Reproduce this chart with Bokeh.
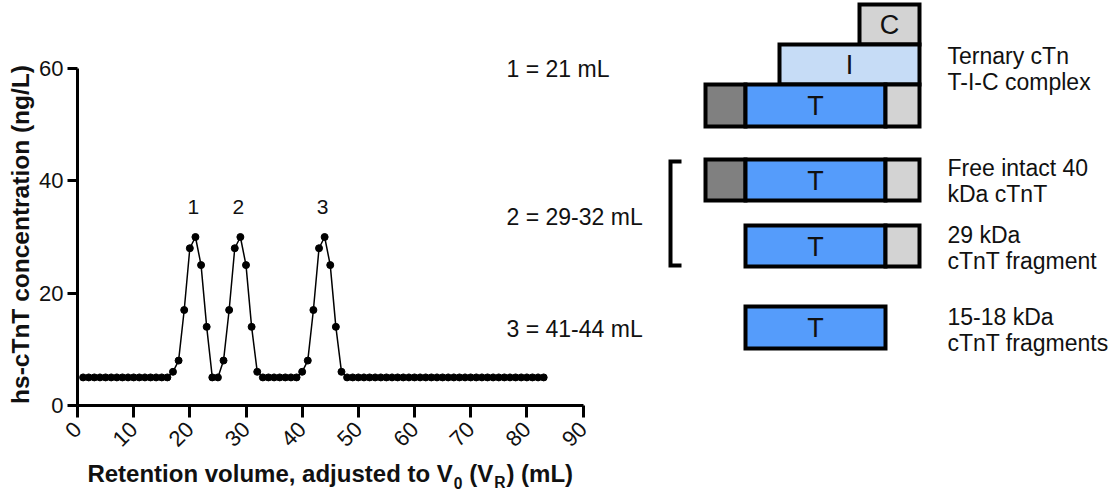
import math
from bokeh.plotting import figure
from bokeh.models import Range1d, FixedTicker, ColumnDataSource
from bokeh.embed import file_html
from bokeh.resources import INLINE
from bokeh.core.properties import value

# ---------------- data ----------------
volume_ml = list(range(1, 84))
conc_ng_l = [5, 5, 5, 5, 5, 5, 5, 5, 5, 5, 5, 5, 5, 5, 5, 5,
             6, 8, 17, 28, 30, 25, 14, 5, 5, 8, 17, 28, 30, 25, 14, 6,
             5, 5, 5, 5, 5, 5, 5,
             6, 8, 17, 28, 30, 25, 14, 6,
             5, 5, 5, 5, 5, 5, 5, 5, 5, 5, 5, 5, 5, 5, 5, 5, 5, 5,
             5, 5, 5, 5, 5, 5, 5, 5, 5, 5, 5, 5, 5, 5, 5, 5, 5, 5]
peak_names = ["1", "2", "3"]
peak_volumes = [21, 29, 44]
peak_heights = [30, 30, 30]
x_ticks = [0, 10, 20, 30, 40, 50, 60, 70, 80, 90]
y_ticks = [0, 20, 40, 60]
peak_notes = ["1 = 21 mL", "2 = 29-32 mL", "3 = 41-44 mL"]
x_title_parts = ["Retention volume, adjusted to V", "0", "(V", "R", ") (mL)"]
y_title = "hs-cTnT concentration (ng/L)"

# schematic (pixel layout of the diagram)
seg_left = [859, 779, 705, 745, 885, 705, 745, 885, 745, 885, 745]
seg_right = [919, 919, 745, 885, 919, 745, 885, 919, 885, 919, 885]
seg_top = [4, 44, 84, 84, 84, 159, 159, 159, 225, 225, 306]
seg_bottom = [44, 84, 126, 126, 126, 200, 200, 200, 266, 266, 348]
seg_color = ["#d3d3d3", "#c6dcf6", "#808080", "#559cfb", "#d3d3d3",
             "#808080", "#559cfb", "#d3d3d3", "#559cfb", "#d3d3d3", "#559cfb"]
letter_text = ["C", "I", "T", "T", "T", "T"]
letter_x = [889, 849, 815, 815, 815, 815]
letter_y = [24, 64, 105, 180, 246, 327]
desc_text = ["Ternary cTn", "T-I-C complex", "Free intact 40", "kDa cTnT",
             "29 kDa", "cTnT fragment", "15-18 kDa", "cTnT fragments"]
desc_y = [55, 81, 167, 193, 234, 260, 316, 342]
note_y = [68, 216, 328]

FONT = "Liberation Sans"
W, H = 1116, 494
X0, Y0 = 77.0, 405.0          # pixel position of the data origin
PXU = (582.5 - X0) / 90.0     # pixels per unit (both axes)

p = figure(width=W, height=H,
           x_range=Range1d(-X0 / PXU, (W - X0) / PXU),
           y_range=Range1d(-(H - Y0) / PXU, Y0 / PXU),
           output_backend="svg", toolbar_location=None,
           min_border=0, min_border_left=0, min_border_right=0,
           min_border_top=0, min_border_bottom=0)
p.outline_line_color = None
p.xgrid.visible = False
p.ygrid.visible = False
p.background_fill_color = "white"
p.border_fill_color = "white"

p.extra_x_ranges = {"px": Range1d(0, W)}
p.extra_y_ranges = {"px": Range1d(H, 0)}

for ax in (p.xaxis[0], p.yaxis[0]):
    ax.fixed_location = 0
    ax.axis_line_width = 3
    ax.major_tick_line_width = 3
    ax.axis_line_color = "black"
    ax.major_tick_line_color = "black"
    ax.minor_tick_line_color = None
    ax.major_tick_in = 0
    ax.major_label_text_font = FONT
    ax.major_label_text_font_size = "22px"
    ax.major_label_text_color = "#111111"

xa = p.xaxis[0]
xa.bounds = (0, 90)
xa.ticker = FixedTicker(ticks=x_ticks)
xa.major_tick_out = 12
xa.major_label_orientation = math.pi / 4
xa.major_label_standoff = 8

ya = p.yaxis[0]
ya.bounds = (0, 60)
ya.ticker = FixedTicker(ticks=y_ticks)
ya.major_tick_out = 10
ya.major_label_standoff = 4

# series
src = ColumnDataSource(dict(x=volume_ml, y=conc_ng_l))
p.line("x", "y", source=src, line_color="black", line_width=1.5)
p.scatter("x", "y", source=src, size=7, color="black")

p.text(x=peak_volumes, y=[h + 5.3 for h in peak_heights], text=peak_names,
       text_font=value(FONT), text_font_size="21px", text_align="center",
       text_baseline="middle", text_color="#111111", x_offset=-2)

# y axis title
p.text(x=[20], y=[234], text=[y_title], angle=math.pi / 2,
       text_font=value(FONT), text_font_style="bold", text_font_size="24.5px",
       text_align="center", text_baseline="middle", text_color="#111111",
       x_range_name="px", y_range_name="px")

# schematic
p.quad(left=seg_left, right=seg_right, top=seg_top, bottom=seg_bottom,
       fill_color=seg_color, line_color="black", line_width=4, line_join="miter",
       x_range_name="px", y_range_name="px")
p.line(x=[681, 670, 670, 681], y=[161, 161, 265, 265], line_color="black",
       line_width=4, line_join="miter", x_range_name="px", y_range_name="px")
p.text(x=letter_x, y=letter_y, text=letter_text, text_font=value(FONT),
       text_font_size="27px", text_align="center", text_baseline="middle",
       text_color="#111111", x_range_name="px", y_range_name="px")
p.text(x=[947] * len(desc_text), y=desc_y, text=desc_text, text_font=value(FONT),
       text_font_size="23px", text_align="left", text_baseline="middle",
       text_color="#111111", x_range_name="px", y_range_name="px")
p.text(x=[506] * 3, y=note_y, text=peak_notes, text_font=value(FONT),
       text_font_size="23px", text_align="left", text_baseline="middle",
       text_color="#111111", x_range_name="px", y_range_name="px")

# x axis title (with subscripts)
BOLD_W = {"R": 722, "e": 556, "t": 333, "n": 611, "i": 278, "o": 611, " ": 278,
          "v": 556, "l": 278, "u": 611, "m": 889, ",": 278, "a": 556, "d": 611,
          "j": 278, "s": 556, "V": 667, "(": 333, ")": 333, "L": 611, "0": 556}
TS = 24
SUB = 0.65
sizes = [TS, TS * SUB, TS, TS * SUB, TS]
gaps = [0, 1, BOLD_W[" "] / 1000 * TS, 1, 1]
widths = [sum(BOLD_W[c] for c in s) / 1000 * sz for s, sz in zip(x_title_parts, sizes)]
total = sum(widths) + sum(gaps)
cx = X0 + 45 * PXU
xpos = cx - total / 2
mid = 473
for s, sz, w, g in zip(x_title_parts, sizes, widths, gaps):
    xpos += g
    sub = sz < TS
    p.text(x=[xpos], y=[mid + (9 if sub else 0)], text=[s],
           text_font=value(FONT), text_font_style="bold",
           text_font_size=f"{sz:.1f}px", text_align="left",
           text_baseline="middle", text_color="#111111",
           x_range_name="px", y_range_name="px")
    xpos += w

open("out.html", "w").write(file_html(p, INLINE))
